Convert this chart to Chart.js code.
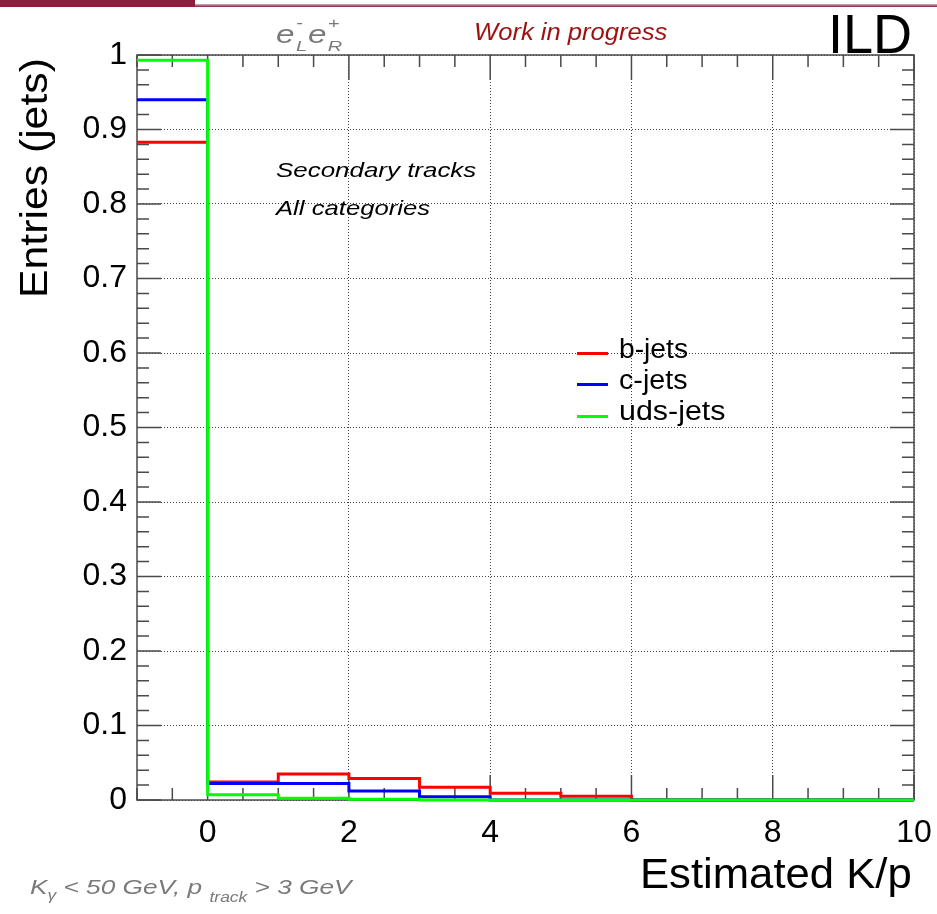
<!DOCTYPE html>
<html>
<head>
<meta charset="utf-8">
<script src="https://cdn.jsdelivr.net/npm/chart.js@4.4.0/dist/chart.umd.min.js"></script>
<style>
  body { margin: 0; background: #fff; }
  #wrap { position: relative; width: 937px; height: 914px; overflow: hidden;
          font-family: "Liberation Sans", Arial, sans-serif; }
  canvas { position: absolute; left: 0; top: 0; }
  .t { position: absolute; white-space: nowrap; line-height: 1; transform-origin: 0 0; }
  .it { font-style: italic; }
  .band { position: absolute; left: 0; top: 0; width: 195px; height: 7px; background: #8f1d3d; }
  .rule { position: absolute; left: 195px; top: 4px; width: 742px; height: 3px;
          background: linear-gradient(#c4b8bc, #8f1d3d); }
  .leg { position: absolute; left: 577px; width: 31px; height: 3px; }
  .stk { display: inline-block; position: relative; width: 10px; height: 24px; }
  .stk span { position: absolute; left: 1px; font-size: 15px; line-height: 1; }
</style>
</head>
<body>
<div id="wrap">
  <canvas id="grafico" width="937" height="914"></canvas>
  <div class="band"></div>
  <div class="rule"></div>

  <span class="t it" id="beam" style="font-size:25px;color:#7a7a7a">e<span class="stk"><span style="top:-4px">-</span><span style="top:19px">L</span></span>e<span class="stk"><span style="top:-4px">+</span><span style="top:19px">R</span></span></span>
  <span class="t it" id="wip" style="font-size:24px;color:#9e1010">Work in progress</span>
  <span class="t" id="ild" style="font-size:56px;color:#000">ILD</span>
  <span class="t it" id="sec" style="font-size:21px;color:#000">Secondary tracks</span>
  <span class="t it" id="allc" style="font-size:21px;color:#000">All categories</span>

  <div class="leg" style="top:352px;background:#ff0000"></div>
  <div class="leg" style="top:383px;background:#0000ff"></div>
  <div class="leg" style="top:415px;background:#00ff00"></div>
  <span class="t" id="leg0" style="font-size:27px">b-jets</span>
  <span class="t" id="leg1" style="font-size:27px">c-jets</span>
  <span class="t" id="leg2" style="font-size:27px">uds-jets</span>

  <span class="t" id="ytitle" style="font-size:39px">Entries (jets)</span>
  <span class="t" id="xtitle" style="font-size:43px">Estimated K/p</span>
  <span class="t it" id="note" style="font-size:21px;color:#7a7a7a">K<span style="position:relative;top:6px;font-size:14px">γ</span> &lt; 50 GeV, p <span style="position:relative;top:8px;font-size:14px">track</span> &gt; 3 GeV</span>
</div>

<script>
// bordas dos bins (largura 1)
const binEdges = [-1, 0, 1, 2, 3, 4, 5, 6, 7, 8, 9, 10];

// conteudo de cada bin
const bJets   = [0.883, 0.024, 0.035, 0.029, 0.017, 0.009, 0.005, 0, 0, 0, 0];
const cJets   = [0.940, 0.022, 0.022, 0.012, 0.0045, 0, 0, 0, 0, 0, 0];
const udsJets = [0.993, 0.007, 0.0025, 0.001, 0, 0, 0, 0, 0, 0, 0];

const seriesNames = ["b-jets", "c-jets", "uds-jets"];
const seriesColors = ["#ff0000", "#0000ff", "#00ff00"];

// ticks
const xTicks = [0, 2, 4, 6, 8, 10];
const yTicks = [0, 0.1, 0.2, 0.3, 0.4, 0.5, 0.6, 0.7, 0.8, 0.9, 1];

// histograma -> pontos do degrau
function toSteps(vals) {
  let pts = vals.map((v, i) => ({ x: binEdges[i], y: v }));
  pts.push({ x: binEdges[binEdges.length - 1], y: vals[vals.length - 1] });
  return pts;
}

// moldura e ticks para dentro, estilo ROOT
const rootFrame = {
  id: "rootFrame",
  beforeDatasetsDraw(chart) {
    const { ctx, chartArea: a, scales: { x, y } } = chart;
    ctx.save();
    ctx.strokeStyle = "#4a4a4a";
    ctx.lineWidth = 1.5;
    ctx.beginPath();
    for (let i = 0; i <= 22; i++) {
      let v = -1 + i * 0.5;
      let px = x.getPixelForValue(v);
      let len = (v % 2 === 0) ? 25 : 12;
      ctx.moveTo(px, a.bottom); ctx.lineTo(px, a.bottom - len);
      ctx.moveTo(px, a.top); ctx.lineTo(px, a.top + len);
    }
    for (let i = 0; i <= 50; i++) {
      let py = y.getPixelForValue(i * 0.02);
      let len = (i % 5 === 0) ? 24 : 12;
      ctx.moveTo(a.left, py); ctx.lineTo(a.left + len, py);
      ctx.moveTo(a.right, py); ctx.lineTo(a.right - len, py);
    }
    ctx.stroke();
    ctx.strokeRect(a.left, a.top, a.right - a.left, a.bottom - a.top);
    ctx.restore();
  }
};

const tickFont = { family: '"Liberation Sans", Arial, sans-serif', size: 32 };

let ctx = document.getElementById("grafico").getContext("2d");

new Chart(ctx, {
  type: "line",
  data: {
    datasets: [udsJets, cJets, bJets].map((vals, k) => ({
      label: seriesNames[2 - k],
      data: toSteps(vals),
      borderColor: seriesColors[2 - k],
      borderWidth: 3,
      pointRadius: 0,
      stepped: "before",
      fill: false,
      clip: 6,
      order: k
    }))
  },
  options: {
    responsive: false,
    animation: false,
    layout: { padding: { left: 0, right: 23, top: 55, bottom: 0 } },
    plugins: {
      legend: { display: false },
      tooltip: { enabled: false }
    },
    scales: {
      x: {
        type: "linear",
        min: -1,
        max: 10,
        afterBuildTicks: s => { s.ticks = xTicks.map(v => ({ value: v })); },
        afterFit: s => { s.height = 114; s.paddingLeft = 0; s.paddingRight = 0; },
        grid: { drawTicks: false, color: "rgba(0,0,0,0.75)", lineWidth: 1 },
        border: { display: false, dash: [1, 2] },
        ticks: { font: tickFont, color: "#000", padding: 14, autoSkip: false, maxRotation: 0,
                 callback: v => String(v) }
      },
      y: {
        min: 0,
        max: 1,
        afterBuildTicks: s => { s.ticks = yTicks.map(v => ({ value: v })); },
        afterFit: s => { s.width = 137; s.paddingTop = 0; s.paddingBottom = 0; },
        grid: { drawTicks: false, color: "rgba(0,0,0,0.75)", lineWidth: 1 },
        border: { display: false, dash: [1, 2] },
        ticks: { font: tickFont, color: "#000", padding: 10, autoSkip: false,
                 callback: v => String(v) }
      }
    }
  },
  plugins: [rootFrame]
});

// posiciona os textos (left ou right, linha de base, largura alvo)
const textPos = [
  { id: "beam", left: 276, base: 40, w: 64 },
  { id: "wip", left: 474, base: 40, w: 193 },
  { id: "ild", left: 828, base: 53, w: 84 },
  { id: "sec", left: 276, base: 177, w: 200 },
  { id: "allc", left: 276, base: 215, w: 154 },
  { id: "leg0", left: 619, base: 359, w: 69 },
  { id: "leg1", left: 619, base: 390, w: 69 },
  { id: "leg2", left: 619, base: 421, w: 107 },
  { id: "xtitle", right: 912, base: 888, w: 272 },
  { id: "note", left: 30, base: 894, w: 322 }
];

textPos.forEach(p => {
  let el = document.getElementById(p.id);
  let size = parseFloat(el.style.fontSize);
  let k = p.w / el.offsetWidth;
  let left = p.left !== undefined ? p.left : p.right - p.w;
  el.style.left = left + "px";
  el.style.top = (p.base - 0.8465 * size) + "px";
  el.style.transform = "scaleX(" + k + ")";
});

// titulo do eixo y, girado
let yt = document.getElementById("ytitle");
let ks = 240 / yt.offsetWidth;
yt.style.left = (47 - 0.8465 * 39) + "px";
yt.style.top = "298px";
yt.style.transform = "rotate(-90deg) scaleX(" + ks + ")";
</script>
</body>
</html>
